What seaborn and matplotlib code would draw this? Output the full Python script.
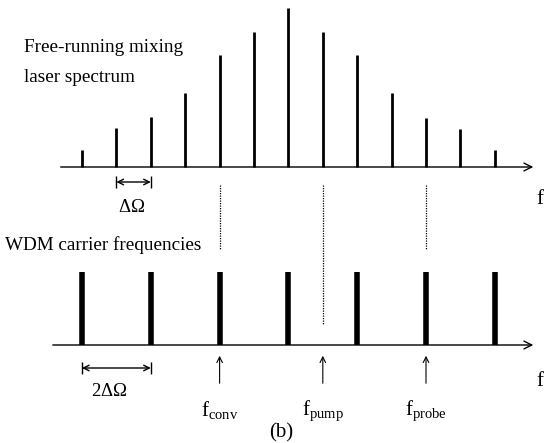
import matplotlib
matplotlib.use('Agg')
import matplotlib.pyplot as plt
import seaborn as sns

# spectrum lines of the free-running mixing laser (index in units of delta-Omega)
laser_idx = [0, 1, 2, 3, 4, 5, 6, 7, 8, 9, 10, 11, 12]
laser_amp = [17, 39, 50, 74, 112, 135, 159, 135, 112, 74, 49, 38, 17]

# WDM carriers sit on every other laser line
wdm_idx = [0, 2, 4, 6, 8, 10, 12]
wdm_amp = [73, 73, 73, 73, 73, 73, 73]

# marked frequencies and how far their dotted guides run down
mark_idx = [4, 7, 10]
mark_names = [r'f$_{\mathregular{conv}}$', r'f$_{\mathregular{pump}}$', r'f$_{\mathregular{probe}}$']
guide_end = [-82, -158, -83]

sns.set_theme(style='white')
plt.rcParams['font.family'] = ['Liberation Serif', 'DejaVu Serif']
plt.rcParams['text.color'] = 'black'
plt.rcParams['mathtext.fontset'] = 'custom'
plt.rcParams['mathtext.rm'] = 'Liberation Serif'

fig = plt.figure(figsize=(5.44, 4.43), dpi=100)
ax = fig.add_axes([0, 0, 1, 1])
ax.set_xlim(-2.384, 13.43)
ax.set_ylim(-276, 167)
ax.axis('off')

top0 = 0
bot0 = -178


def span_arrow(x0, x1, y):
    ax.annotate('', xy=(x1, y), xytext=(x0, y),
                arrowprops=dict(arrowstyle='<->', lw=1.0, color='black',
                                mutation_scale=10, shrinkA=0, shrinkB=0))
    ax.vlines([x0, x1], y - 6, y + 6, colors='black', lw=1.0)


# top spectrum
ax.annotate('', xy=(13.2, top0), xytext=(-0.7, top0),
            arrowprops=dict(arrowstyle='->', lw=1.0, color='black', mutation_scale=14))
ax.vlines(laser_idx, top0, laser_amp, colors='black', lw=2.0)
ax.text(13.22, top0 - 33, 'f', fontsize=15, ha='left', va='center')
ax.text(-1.70, 120, 'Free-running mixing', fontsize=13.8, ha='left', va='center')
ax.text(-1.70, 90, 'laser spectrum', fontsize=13.8, ha='left', va='center')

# delta-Omega marker
span_arrow(laser_idx[1], laser_idx[2], -15)
ax.text(1.45, -40, r'$\Delta\Omega$', fontsize=13.5, ha='center', va='center')

# bottom carriers
ax.annotate('', xy=(13.2, bot0), xytext=(-0.93, bot0),
            arrowprops=dict(arrowstyle='->', lw=1.0, color='black', mutation_scale=14))
ax.vlines(wdm_idx, bot0, [bot0 + a for a in wdm_amp], colors='black', lw=4.0)
ax.text(13.22, bot0 - 37, 'f', fontsize=15, ha='left', va='center')
ax.text(-2.25, -78, 'WDM carrier frequencies', fontsize=13.8, ha='left', va='center')

# 2 delta-Omega marker
span_arrow(wdm_idx[0], wdm_idx[1], bot0 - 23)
ax.text(0.8, bot0 - 47, r'2$\Delta\Omega$', fontsize=13.5, ha='center', va='center')

# dotted guides and arrows for the marked frequencies
for i, name, end in zip(mark_idx, mark_names, guide_end):
    ax.vlines(i, -18, end, colors='black', lw=0.9, linestyles=(0, (1, 1)))
    ax.annotate('', xy=(i, bot0 - 8), xytext=(i, bot0 - 41),
                arrowprops=dict(arrowstyle='->', lw=0.8, color='black', mutation_scale=10))
    ax.text(i, bot0 - 66, name, fontsize=15, ha='center', va='center')

ax.text(5.8, bot0 - 88, '(b)', fontsize=15, ha='center', va='center')

fig.savefig('out.png', dpi=100, facecolor='white')
